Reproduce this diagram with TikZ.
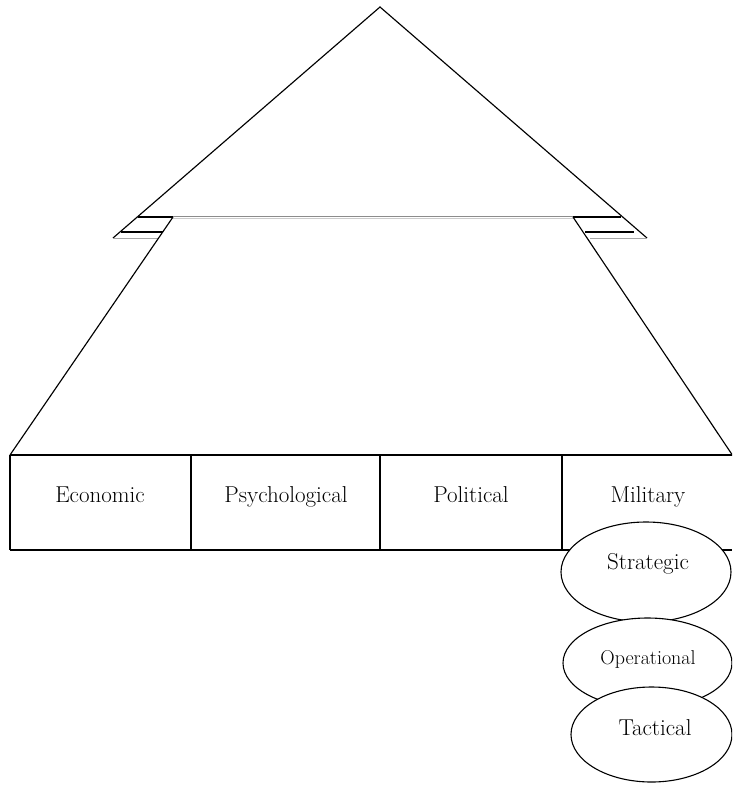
\documentclass[tikz,border=0pt]{standalone}
\usetikzlibrary{shapes.geometric}
\begin{document}
\begin{tikzpicture}[x=1pt,y=-1pt,
  edge/.style={line width=1.15pt,black},
  faint/.style={line width=0.8pt,black!35},
  lbl/.style={font=\fontsize{23}{27}\selectfont,inner sep=0pt,anchor=base},
  smalllbl/.style={font=\fontsize{20}{24}\selectfont,inner sep=0pt,anchor=base},
  oval/.style={ellipse,draw,line width=1.1pt,fill=white,inner sep=0pt}]
\useasboundingbox (0,0) rectangle (732,785);
\clip (0,0) rectangle (732,785);
% top triangle
\coordinate (apex) at (380,7);
\coordinate (tl) at (113,238);
\coordinate (tr) at (647,238);
\draw[edge] (tl) -- (apex) -- (tr);
% bands
\draw[edge] (138,217) -- (173,217);
\draw[edge] (573,217) -- (621,217);
\draw[edge] (121,232) -- (163,232);
\draw[edge] (585,232) -- (634,232);
\draw[faint] (113,238) -- (158,238);
\draw[faint] (590,238) -- (647,238);
\draw[line width=0.7pt,black!45] (173,216) -- (573,216);
\draw[line width=0.7pt,black!20] (173,218.5) -- (573,218.5);
% lower trapezoid
\coordinate (ml) at (173,217);
\coordinate (mr) at (573,217);
\coordinate (bl) at (10,455);
\coordinate (br) at (733,456);
\draw[edge] (ml) -- (bl);
\draw[edge] (mr) -- (br);
% boxes
\draw[edge] (10,455) -- (732,455);
\draw[edge] (10,550) -- (732,550);
\draw[edge] (10,455) -- (10,550);
\draw[edge] (191,455) -- (191,550);
\draw[edge] (380,455) -- (380,550);
\draw[edge] (562,455) -- (562,550);
\node[lbl] (eco) at (100,502) {Economic};
\node[lbl] (psy) at (286,502) {Psychological};
\node[lbl] (pol) at (471,502) {Political};
\node[lbl] (mil) at (648,502) {Military};
% ellipses
\node[oval,minimum width=170pt,minimum height=100pt] (strat) at (646,572) {};
\node[lbl] (strattxt) at (648,569) {Strategic};
\node[oval,minimum width=169pt,minimum height=90pt] (oper) at (647.5,663) {};
\node[smalllbl] (opertxt) at (648,664) {Operational};
\node[oval,minimum width=161pt,minimum height=95pt] (tact) at (651.5,734.5) {};
\node[lbl] (tacttxt) at (655,735) {Tactical};
\end{tikzpicture}
\end{document}
